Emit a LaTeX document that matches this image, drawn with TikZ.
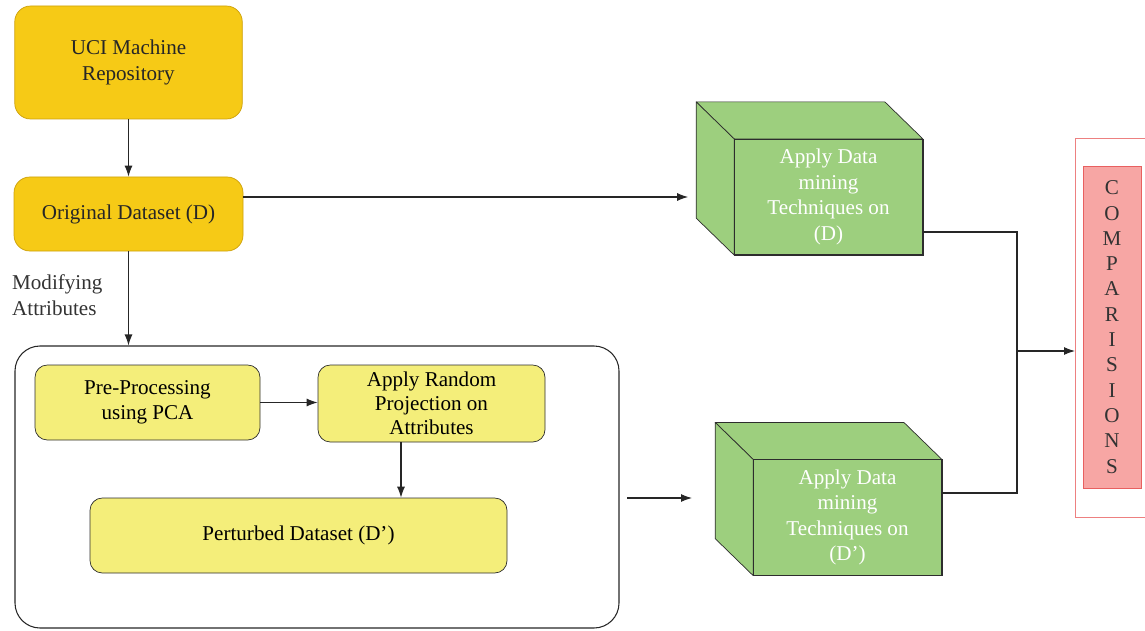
\documentclass[tikz,border=0pt]{standalone}
\usepackage{fontspec}
\setmainfont{Liberation Serif}
\usepackage{tikz}
\usetikzlibrary{positioning,arrows.meta,calc}
\definecolor{srcGold}{RGB}{246,202,22}
\definecolor{srcGoldEdge}{RGB}{205,160,10}
\definecolor{stepYellow}{RGB}{244,238,122}
\definecolor{cubeGreen}{RGB}{157,207,126}
\definecolor{cmpPink}{RGB}{247,166,164}
\definecolor{cmpRed}{RGB}{232,96,96}
\definecolor{lineGray}{RGB}{45,45,45}
\tikzset{
  goldbox/.style={rectangle,draw=srcGoldEdge,fill=srcGold,
    rounded corners=9pt,align=center,minimum width=#1,text=black!85},
  goldbox/.default=4.55cm,
  stepbox/.style={rectangle,draw=lineGray,fill=stepYellow,
    rounded corners=7pt,align=center,minimum width=#1,minimum height=1.5cm},
  stepbox/.default=4.5cm,
  cubefront/.style={rectangle,draw=lineGray,fill=cubeGreen,
    align=center,text=white,minimum width=3.76cm,minimum height=2.31cm},
  cubeside/.style={draw=lineGray,fill=cubeGreen,line join=round},
  arrow/.style={-{Latex[length=2.2mm,width=1.6mm]},draw=black!85,line width=0.6pt},
  link/.style={draw=black!85,line width=0.6pt}
}

\begin{document}
\begin{tikzpicture}[font=\fontsize{12}{14.5}\selectfont]
  \useasboundingbox (0,0) rectangle (22.9,-12.62);

  % source and original data
  \node[goldbox, minimum height=2.26cm] (uci) at (2.57,-1.25) {UCI Machine\\Repository};
  \node[goldbox=4.58cm, minimum height=1.48cm] (orig) at (2.57,-4.28) {Original Dataset (D)};
  \node[anchor=west, align=left, text=black!80] (modlbl) at (0.12,-5.9) {Modifying\\Attributes};

  % perturbation stage
  \node[draw=black!85, line width=0.6pt, rounded corners=0.5cm,
    minimum width=12.08cm, minimum height=5.64cm] (stage) at (6.34,-9.74) {};
  \node[stepbox] (pre) at (2.95,-8.05) {Pre-Processing\\using PCA};
  \node[stepbox=4.54cm, minimum height=1.54cm] (rand) at (8.63,-8.07)
    {Apply Random\\[-1pt]Projection on\\[-1pt]Attributes};
  \node[stepbox=8.34cm] (pert) at (5.97,-10.71) {Perturbed Dataset (D')};

  % mining cubes: side faces first, front face on top
  \node[cubefront] (cubeA) at (16.57,-3.94) {Apply Data\\mining\\Techniques on\\(D)};
  \node[cubefront] (cubeB) at (16.95,-10.35) {Apply Data\\mining\\Techniques on\\(D')};
  \foreach \c in {cubeA,cubeB}{
    \draw[cubeside] (\c.north west) -- ++(-0.76,0.74) -- ($(\c.north east)+(-0.76,0.74)$)
      -- (\c.north east) -- cycle;
    \draw[cubeside] (\c.north west) -- ++(-0.76,0.74) -- ($(\c.south west)+(-0.76,0.74)$)
      -- (\c.south west) -- cycle;
    \draw[draw=lineGray] (\c.north west) rectangle (\c.south east);
  }

  % comparison column
  \node[draw=cmpRed!80, line width=0.5pt, minimum width=1.5cm, minimum height=7.58cm,
    anchor=north west] (cmpouter) at (21.5,-2.76) {};
  \node[draw=cmpRed, fill=cmpPink, minimum width=1.16cm, minimum height=6.44cm,
    align=center, text=black!80, font=\fontsize{12}{14.4}\selectfont] (cmp) at (22.24,-6.54)
    {C\\O\\M\\P\\A\\R\\I\\S\\I\\O\\N\\S};

  \coordinate (randout) at ($(rand.south)+(-0.61,0)$);
  \coordinate (inA) at ($(cubeA.west)+(-0.92,0)$);
  \coordinate (outB) at (12.54,-9.96);
  \coordinate (inB) at (13.84,-9.96);
  \coordinate (join) at (20.34,-7.02);

  \draw[arrow] (uci) -- (orig);
  \draw[arrow] (orig.south) -- (orig.south |- stage.north);
  \draw[arrow] (pre.east) -- (pre.east -| rand.west);
  \draw[arrow] (randout) -- (randout |- pert.north);
  \draw[arrow] (orig.east |- inA) -- (inA);
  \draw[arrow] (outB) -- (inB);
  \draw[link] ($(cubeA.east)+(0,-0.70)$) -| (join);
  \draw[link] ($(cubeB.east)+(0,0.49)$) -| (join);
  \draw[arrow] (join) -- (join -| cmpouter.west);
\end{tikzpicture}
\end{document}
